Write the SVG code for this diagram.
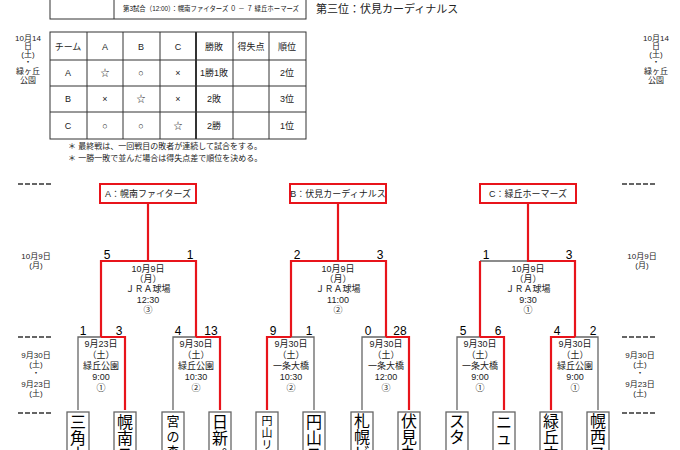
<svg xmlns="http://www.w3.org/2000/svg" width="680" height="450" viewBox="0 0 680 450">
<style>
text{font-family:"Liberation Sans","Noto Sans CJK JP",sans-serif;fill:#222}
.s{font-size:8px;text-anchor:start}
.m{font-size:9px;text-anchor:middle}
.dl{font-size:8px;text-anchor:middle}
.sc{font-size:12px;text-anchor:middle;fill:#000}
.t{font-size:16px;text-anchor:middle;fill:#000}
.g{stroke:#666;stroke-width:1.3;fill:none}
.r{stroke:#e8141b;stroke-width:2.2;fill:none}
.bx{fill:#fff;stroke:#666;stroke-width:1.3}
.rb{fill:#fff;stroke:#e8141b;stroke-width:2}
.tb{stroke:#333;stroke-width:1;fill:none}
.d{stroke:#333;stroke-width:1.5;stroke-dasharray:5,2}
</style>
<g id="top">
<rect class="tb" x="50" y="-5" width="256" height="24"/>
<line class="tb" x1="114" y1="-5" x2="114" y2="19"/>
<text class="s" x="123" y="11" style="font-size:7px" textLength="176" lengthAdjust="spacingAndGlyphs">第3試合（12:00）：幌南ファイターズ ０ － ７ 緑丘ホーマーズ</text>
<text x="316" y="13" style="font-size:11px">第三位：伏見カーディナルス</text>
</g>
<g id="table">
<rect class="tb" x="50" y="32" width="256" height="107"/>
<path class="tb" d="M87 32V139M123 32V139M160 32V139M233 32V139M269 32V139M50 60H306M50 86H306M50 112H306"/>
<line x1="196" y1="32" x2="196" y2="139" stroke="#333" stroke-width="2"/>
<text x="68" y="50" class="m">チーム</text><text x="105" y="50" class="m">A</text><text x="141" y="50" class="m">B</text><text x="178" y="50" class="m">C</text><text x="214" y="50" class="m">勝敗</text><text x="251" y="50" class="m">得失点</text><text x="287" y="50" class="m">順位</text>
<text x="68" y="76" class="m">A</text><text x="105" y="76" class="m">☆</text><text x="141" y="76" class="m">○</text><text x="178" y="76" class="m">×</text><text x="214" y="76" class="m">1勝1敗</text><text x="287" y="76" class="m">2位</text>
<text x="68" y="102" class="m">B</text><text x="105" y="102" class="m">×</text><text x="141" y="102" class="m">☆</text><text x="178" y="102" class="m">×</text><text x="214" y="102" class="m">2敗</text><text x="287" y="102" class="m">3位</text>
<text x="68" y="129" class="m">C</text><text x="105" y="129" class="m">○</text><text x="141" y="129" class="m">○</text><text x="178" y="129" class="m">☆</text><text x="214" y="129" class="m">2勝</text><text x="287" y="129" class="m">1位</text>
<text class="s" x="68" y="149">＊ 最終戦は、一回戦目の敗者が連続して試合をする。</text>
<text class="s" x="68" y="161">＊ 一勝一敗で並んだ場合は得失点差で順位を決める。</text>
</g>
<g id="dates">
<text class="dl" x="28" y="41">10月14</text><text class="dl" x="28" y="49">日</text><text class="dl" x="28" y="57">(土)</text><text class="dl" x="28" y="65">・</text><text class="dl" x="28" y="74">緑ヶ丘</text><text class="dl" x="28" y="83">公園</text>
<text class="dl" x="656" y="41">10月14</text><text class="dl" x="656" y="49">日</text><text class="dl" x="656" y="57">(土)</text><text class="dl" x="656" y="65">・</text><text class="dl" x="656" y="74">緑ヶ丘</text><text class="dl" x="656" y="83">公園</text>
<text class="dl" x="36" y="259">10月9日</text><text class="dl" x="36" y="268">(月)</text>
<text class="dl" x="642" y="259">10月9日</text><text class="dl" x="642" y="268">(月)</text>
<text class="dl" x="36" y="358">9月30日</text><text class="dl" x="36" y="367">(土)</text><text class="dl" x="36" y="376">・</text><text class="dl" x="36" y="387">9月23日</text><text class="dl" x="36" y="396">(土)</text>
<text class="dl" x="640" y="358">9月30日</text><text class="dl" x="640" y="367">(土)</text><text class="dl" x="640" y="376">・</text><text class="dl" x="640" y="387">9月23日</text><text class="dl" x="640" y="396">(土)</text>
<path class="d" d="M18 184H53M18 337H53M18 413H53M622 184H657M622 337H657M622 413H657"/>
</g>
<g id="connectors">
<path class="g" d="M78 410V337H101M173 410V337H196M314 410V337H291M362 410V337H386M457 410V337H480M598 410V337H575M528 261H480"/>
<path class="r" d="M148 203V261M101 337V261H196V337M101 337H125V410M196 337H220V410"/>
<path class="r" d="M338 203V261M291 337V261H386V337M291 337H267V410M386 337H409V410"/>
<path class="r" d="M528 203V261H575V337M480 337V261M480 337H504V410M575 337H551V410"/>
</g>
<g id="finals">
<g id="nodeA"><rect class="rb" x="100" y="184" width="96" height="19"/><text class="m" x="148" y="197">A：幌南ファイターズ</text></g>
<g id="nodeB"><rect class="rb" x="290" y="184" width="96" height="19"/><text class="m" x="338" y="197">B：伏見カーディナルス</text></g>
<g id="nodeC"><rect class="rb" x="480" y="184" width="96" height="19"/><text class="m" x="528" y="197">C：緑丘ホーマーズ</text></g>
</g>
<g id="scores">
<text class="sc" x="107" y="259">5</text><text class="sc" x="190" y="259">1</text>
<text class="sc" x="297" y="259">2</text><text class="sc" x="380" y="259">3</text>
<text class="sc" x="486" y="259">1</text><text class="sc" x="569" y="259">3</text>
<text class="sc" x="83" y="335">1</text><text class="sc" x="119" y="335">3</text>
<text class="sc" x="178" y="335">4</text><text class="sc" x="211" y="335">13</text>
<text class="sc" x="273" y="335">9</text><text class="sc" x="309" y="335">1</text>
<text class="sc" x="368" y="335">0</text><text class="sc" x="400" y="335">28</text>
<text class="sc" x="463" y="335">5</text><text class="sc" x="498" y="335">6</text>
<text class="sc" x="557" y="335">4</text><text class="sc" x="593" y="335">2</text>
</g>
<g id="matches">
<text class="m" x="148" y="272">10月9日</text><text class="m" x="148" y="282">（月）</text><text class="m" x="148" y="292">ＪＲＡ球場</text><text class="m" x="148" y="303">12:30</text><text class="m" x="148" y="313">③</text>
<text class="m" x="338" y="272">10月9日</text><text class="m" x="338" y="282">（月）</text><text class="m" x="338" y="292">ＪＲＡ球場</text><text class="m" x="338" y="303">11:00</text><text class="m" x="338" y="313">②</text>
<text class="m" x="528" y="272">10月9日</text><text class="m" x="528" y="282">（月）</text><text class="m" x="528" y="292">ＪＲＡ球場</text><text class="m" x="528" y="303">9:30</text><text class="m" x="528" y="313">①</text>
<text class="m" x="101" y="347">9月23日</text><text class="m" x="101" y="358">（土）</text><text class="m" x="101" y="369">緑丘公園</text><text class="m" x="101" y="380">9:00</text><text class="m" x="101" y="391">①</text>
<text class="m" x="196" y="347">9月30日</text><text class="m" x="196" y="358">（土）</text><text class="m" x="196" y="369">緑丘公園</text><text class="m" x="196" y="380">10:30</text><text class="m" x="196" y="391">②</text>
<text class="m" x="291" y="347">9月30日</text><text class="m" x="291" y="358">（土）</text><text class="m" x="291" y="369">一条大橋</text><text class="m" x="291" y="380">10:30</text><text class="m" x="291" y="391">②</text>
<text class="m" x="386" y="347">9月30日</text><text class="m" x="386" y="358">（土）</text><text class="m" x="386" y="369">一条大橋</text><text class="m" x="386" y="380">12:00</text><text class="m" x="386" y="391">③</text>
<text class="m" x="480" y="347">9月30日</text><text class="m" x="480" y="358">（土）</text><text class="m" x="480" y="369">一条大橋</text><text class="m" x="480" y="380">9:00</text><text class="m" x="480" y="391">①</text>
<text class="m" x="575" y="347">9月30日</text><text class="m" x="575" y="358">（土）</text><text class="m" x="575" y="369">緑丘公園</text><text class="m" x="575" y="380">9:00</text><text class="m" x="575" y="391">①</text>
</g>
<g id="teams">
<g id="t1"><rect class="bx" x="67" y="412" width="22" height="45"/><text class="t" x="78" y="428">三</text><text class="t" x="78" y="444">角</text><text class="t" x="78" y="460">山</text></g>
<g id="t2"><rect class="bx" x="114" y="412" width="22" height="45"/><text class="t" x="125" y="428">幌</text><text class="t" x="125" y="444">南</text><text class="t" x="125" y="460">ス</text></g>
<g id="t3"><rect class="bx" x="162" y="412" width="22" height="45"/><text class="t" x="173" y="426" style="font-size:13px">宮</text><text class="t" x="173" y="441" style="font-size:13px">の</text><text class="t" x="173" y="456" style="font-size:13px">森</text></g>
<g id="t4"><rect class="bx" x="209" y="412" width="22" height="45"/><text class="t" x="220" y="428">日</text><text class="t" x="220" y="444">新</text><text class="t" x="220" y="460">ペ</text></g>
<g id="t5"><rect class="bx" x="256" y="412" width="22" height="45"/><text class="t" x="267" y="425" style="font-size:11px">円</text><text class="t" x="267" y="437" style="font-size:11px">山</text><text class="t" x="267" y="449" style="font-size:11px">リ</text></g>
<g id="t6"><rect class="bx" x="303" y="412" width="22" height="45"/><text class="t" x="314" y="428">円</text><text class="t" x="314" y="444">山</text><text class="t" x="314" y="460">ス</text></g>
<g id="t7"><rect class="bx" x="351" y="412" width="22" height="45"/><text class="t" x="362" y="427">札</text><text class="t" x="362" y="443">幌</text><text class="t" x="362" y="459">ビ</text></g>
<g id="t8"><rect class="bx" x="398" y="412" width="22" height="45"/><text class="t" x="409" y="427">伏</text><text class="t" x="409" y="443">見</text><text class="t" x="409" y="459">丸</text></g>
<g id="t9"><rect class="bx" x="446" y="412" width="22" height="45"/><text class="t" x="457" y="427">ス</text><text class="t" x="457" y="443">タ</text><text class="t" x="457" y="459">ー</text></g>
<g id="t10"><rect class="bx" x="493" y="412" width="22" height="45"/><text class="t" x="504" y="428">ニ</text><text class="t" x="504" y="444">ュ</text><text class="t" x="504" y="460">ー</text></g>
<g id="t11"><rect class="bx" x="540" y="412" width="22" height="45"/><text class="t" x="551" y="427">緑</text><text class="t" x="551" y="443">丘</text><text class="t" x="551" y="459">ホ</text></g>
<g id="t12"><rect class="bx" x="587" y="412" width="22" height="45"/><text class="t" x="598" y="427">幌</text><text class="t" x="598" y="443">西</text><text class="t" x="598" y="459">ス</text></g>
</g>
</svg>
